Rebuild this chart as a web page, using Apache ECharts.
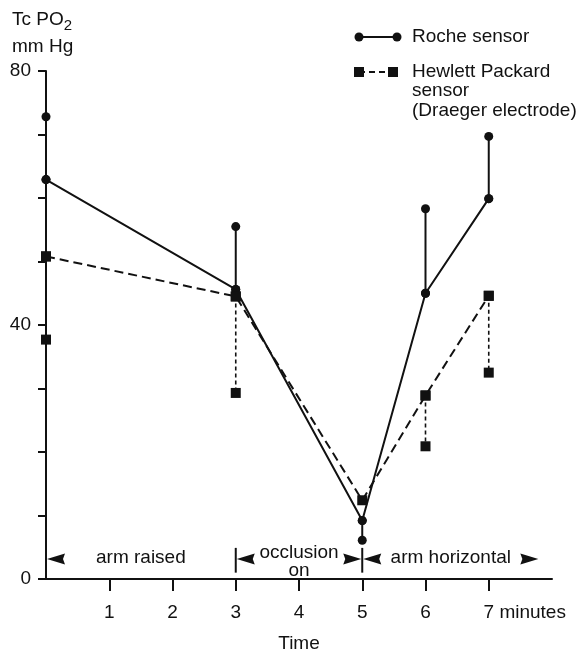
<!DOCTYPE html>
<html>
<head>
    <meta charset="utf-8" />
    <script src="https://cdn.jsdelivr.net/npm/echarts@6/dist/echarts.min.js"></script>
    <style>
        html, body { margin: 0; background: #fff; }
        #main { width: 583px; height: 651px; }
    </style>
</head>
<body>
<div id="main"></div>
<script>
    // readings, minutes / mmHg
    var times = [0, 3, 5, 6, 7];
    var rocheMain = [62.9, 45.6, 9.2, 45.0, 59.9];
    var rocheAlt = [72.8, 55.5, 6.1, 58.3, 69.7];
    var hpMain = [50.8, 44.5, 12.4, 28.9, 44.6];
    var hpAlt = [37.7, 29.3, null, 20.9, 32.5];

    var xTicks = [1, 2, 3, 4, 5, 6, 7];
    var yLabels = [0, 40, 80];

    // phase annotations along the bottom
    var phaseNames = ['arm raised', 'occlusion\non', 'arm horizontal'];
    var phaseCenters = [1.5, 4, 6.4];
    var phaseBars = [3, 5];
    var phaseArrows = [[0, 'left'], [3, 'left'], [5, 'right'], [5, 'left'], [7.8, 'right']];

    var ink = '#111';
    var font = 'Liberation Sans, Arial, sans-serif';

    var chartDom = document.getElementById('main');
    var myChart = echarts.init(chartDom);

    function pairs(ys) {
        return times.map(function (t, i) { return [t, ys[i]]; });
    }

    var series = [{
        name: 'Roche sensor',
        type: 'line',
        data: pairs(rocheMain),
        symbol: 'circle',
        symbolSize: 9,
        clip: false,
        lineStyle: { color: ink, width: 2 },
        itemStyle: { color: ink },
        z: 3
    }, {
        name: 'Hewlett Packard sensor',
        type: 'line',
        data: pairs(hpMain),
        symbol: 'rect',
        symbolSize: 10,
        clip: false,
        lineStyle: { color: ink, width: 2, type: [9, 5] },
        itemStyle: { color: ink },
        z: 3
    }];

    // vertical connectors to the second reading
    times.forEach(function (t, i) {
        series.push({
            type: 'line',
            data: [[t, rocheMain[i]], [t, rocheAlt[i]]],
            symbol: 'circle',
            symbolSize: 9,
            clip: false,
            lineStyle: { color: ink, width: 2 },
            itemStyle: { color: ink }
        });
        if (hpAlt[i] != null) {
            series.push({
                type: 'line',
                data: [[t, hpMain[i]], [t, hpAlt[i]]],
                symbol: 'rect',
                symbolSize: 10,
                clip: false,
                lineStyle: { color: ink, width: 1.6, type: [4, 3] },
                itemStyle: { color: ink }
            });
        }
    });

    var option = {
        animation: false,
        backgroundColor: '#fff',
        title: {
            text: '{a|Tc PO}{s|2}\n{a|mm Hg}',
            left: 7,
            top: 1,
            textStyle: {
                fontWeight: 'normal',
                rich: {
                    a: { fontFamily: font, fontSize: 19, fontWeight: 'normal', color: ink, lineHeight: 27 },
                    s: { fontFamily: font, fontSize: 15, fontWeight: 'normal', color: ink, lineHeight: 17, verticalAlign: 'bottom' }
                }
            }
        },
        grid: {
            left: 46,
            right: 31,
            top: 71,
            bottom: 72,
            containLabel: false,
            outerBoundsMode: 'none'
        },
        xAxis: {
            type: 'value',
            min: 0,
            max: 8,
            interval: 1,
            name: 'Time',
            nameLocation: 'middle',
            nameGap: 55,
            nameTextStyle: { fontFamily: font, fontSize: 19, color: ink },
            axisLine: { onZero: false, lineStyle: { color: ink, width: 2 } },
            axisTick: { customValues: xTicks, length: 12, lineStyle: { color: ink, width: 2 } },
            axisLabel: {
                customValues: xTicks,
                margin: 24,
                formatter: function (v) {
                    if (v === 7) return '{p|}{t|7 minutes}';
                    return '{t|' + v + '}';
                },
                rich: {
                    p: { width: 72 },
                    t: { fontFamily: font, fontSize: 19, color: ink }
                }
            },
            splitLine: { show: false }
        },
        yAxis: {
            type: 'value',
            min: 0,
            max: 80,
            interval: 10,
            axisLine: { show: true, onZero: false, lineStyle: { color: ink, width: 2 } },
            axisTick: { show: true, length: 8, lineStyle: { color: ink, width: 2 } },
            axisLabel: {
                margin: 15,
                fontFamily: font,
                fontSize: 19,
                color: ink,
                formatter: function (v) {
                    return yLabels.indexOf(v) >= 0 ? String(v) : '';
                }
            },
            splitLine: { show: false }
        },
        series: series
    };

    myChart.setOption(option);

    // legend and phase marks
    function px(x, y) {
        return myChart.convertToPixel('grid', [x, y]);
    }

    var graphics = [
        { type: 'line', shape: { x1: 359, y1: 37, x2: 397, y2: 37 }, style: { stroke: ink, lineWidth: 2 } },
        { type: 'circle', shape: { cx: 359, cy: 37, r: 4.5 }, style: { fill: ink } },
        { type: 'circle', shape: { cx: 397, cy: 37, r: 4.5 }, style: { fill: ink } },
        { type: 'text', x: 412, y: 37, style: { text: 'Roche sensor', font: '19px ' + font, fill: ink, verticalAlign: 'middle' } },
        { type: 'line', shape: { x1: 359, y1: 72, x2: 393, y2: 72 }, style: { stroke: ink, lineWidth: 2, lineDash: [6, 4] } },
        { type: 'rect', shape: { x: 354, y: 67, width: 10, height: 10 }, style: { fill: ink } },
        { type: 'rect', shape: { x: 388, y: 67, width: 10, height: 10 }, style: { fill: ink } },
        { type: 'text', x: 412, y: 62, style: { text: 'Hewlett Packard\nsensor\n(Draeger electrode)', font: '19px ' + font, fill: ink, lineHeight: 19.5, verticalAlign: 'top' } }
    ];

    var yArrow = px(0, 3)[1] - 1;
    phaseBars.forEach(function (t) {
        var p0 = px(t, 1.0), p1 = px(t, 4.9);
        graphics.push({ type: 'line', shape: { x1: p0[0], y1: p0[1], x2: p1[0], y2: p1[1] }, style: { stroke: ink, lineWidth: 2 } });
    });
    phaseArrows.forEach(function (a) {
        var x = px(a[0], 0)[0];
        var d = a[1] === 'left' ? 1 : -1;
        var tip = x + d * 1;
        graphics.push({
            type: 'polygon',
            shape: { points: [[tip, yArrow], [tip + d * 18, yArrow - 5.5], [tip + d * 16, yArrow], [tip + d * 18, yArrow + 5.5]] },
            style: { fill: ink }
        });
    });
    phaseNames.forEach(function (name, i) {
        var p = px(phaseCenters[i], name.indexOf('\n') >= 0 ? 2.7 : 3.3);
        graphics.push({
            type: 'text', x: p[0], y: p[1],
            style: { text: name, font: '19px ' + font, fill: ink, align: 'center', verticalAlign: 'middle', lineHeight: 18 }
        });
    });

    myChart.setOption({ graphic: graphics });
</script>
</body>
</html>
